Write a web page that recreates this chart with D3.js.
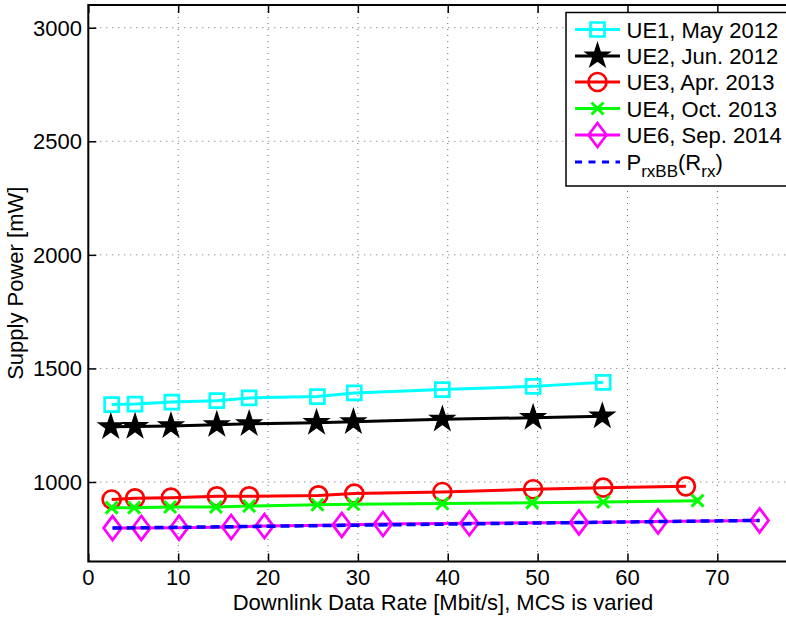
<!DOCTYPE html>
<html><head><meta charset="utf-8">
<script src="https://cdn.jsdelivr.net/npm/d3@7"></script>
<style>body{margin:0;background:#fff;overflow:hidden}svg{display:block;font-family:"Liberation Sans",Arial,sans-serif}</style>
</head><body><div id="chart"></div>
<script>
// ---- data ----
const xTicks = [0, 10, 20, 30, 40, 50, 60, 70, 80];
const yTicks = [1000, 1500, 2000, 2500, 3000];

const ue1X = [2.6, 5.2, 9.3, 14.3, 17.9, 25.5, 29.6, 39.4, 49.5, 57.3];
const ue1Y = [1341, 1343, 1352, 1358, 1370, 1376, 1392, 1407, 1421, 1439];

const ue2X = [2.5, 5.2, 9.2, 14.3, 17.9, 25.4, 29.5, 39.4, 49.5, 57.2];
const ue2Y = [1243, 1244, 1247, 1252, 1256, 1261, 1265, 1276, 1283, 1290];

const ue3X = [2.6, 5.2, 9.2, 14.3, 17.9, 25.6, 29.6, 39.4, 49.5, 57.3, 66.5];
const ue3Y = [923, 928, 931, 937, 937, 941, 949, 956, 968, 975, 981];

const ue4X = [2.6, 5.1, 9.1, 14.2, 17.9, 25.5, 29.5, 39.4, 49.4, 57.3, 67.8];
const ue4Y = [887, 887, 890, 890, 894, 900, 902, 905, 909, 912, 918];

const ue6X = [2.7, 5.9, 10.1, 15.9, 19.6, 28.2, 32.8, 42.4, 54.6, 63.4, 74.7];
const ue6Y = [797, 798, 799, 802, 806, 811, 815, 818, 822, 826, 831];

const modelX = [2.7, 74.7];
const modelY = [797, 831];

const seriesNames = ["UE1, May 2012", "UE2, Jun. 2012", "UE3, Apr. 2013", "UE4, Oct. 2013", "UE6, Sep. 2014"];

// ---- layout ----
const W = 786, H = 617;
const L = 88.3, R = 807.2, T = 5, B = 561.5;
const svg = d3.select("#chart").append("svg").attr("width", W).attr("height", H);
const x = d3.scaleLinear().domain([0, 80]).range([L, R]);
const y = d3.scaleLinear().domain([650, 3100]).range([B, T]);

// grid
const grid = svg.append("g").attr("stroke", "#666").attr("stroke-width", 1).attr("stroke-dasharray", "1,5");
xTicks.forEach(t => grid.append("line").attr("x1", x(t)).attr("x2", x(t)).attr("y1", T).attr("y2", B));
yTicks.forEach(t => grid.append("line").attr("y1", y(t)).attr("y2", y(t)).attr("x1", L).attr("x2", R));

// axes (ticks inward)
const fs = 22;
const ax = svg.append("g");
ax.append("g").attr("transform", `translate(0,${B})`)
  .call(d3.axisTop(x).tickValues(xTicks).tickSize(8).tickFormat(""))
  .call(g => g.select(".domain").remove());
ax.append("g").attr("transform", `translate(0,${T})`)
  .call(d3.axisBottom(x).tickValues(xTicks).tickSize(8).tickFormat(""))
  .call(g => g.select(".domain").remove());
ax.append("g").attr("transform", `translate(${L},0)`)
  .call(d3.axisRight(y).tickValues(yTicks).tickSize(8).tickFormat(""))
  .call(g => g.select(".domain").remove());
ax.selectAll("line").attr("stroke", "#000").attr("stroke-width", 1.5);

// tick labels
svg.append("g").selectAll("text").data(xTicks.filter(t => x(t) < W)).join("text")
  .attr("x", d => x(d)).attr("y", 585).attr("text-anchor", "middle")
  .attr("font-size", fs).text(d => d);
svg.append("g").selectAll("text").data(yTicks).join("text")
  .attr("x", 82).attr("y", d => y(d) + 8).attr("text-anchor", "end")
  .attr("font-size", fs).text(d => d);

// axis labels
svg.append("text").attr("x", 443).attr("y", 610).attr("text-anchor", "middle")
  .attr("font-size", fs).text("Downlink Data Rate [Mbit/s], MCS is varied");
svg.append("text").attr("transform", `translate(23,${(T + B) / 2}) rotate(-90)`)
  .attr("text-anchor", "middle").attr("font-size", fs).text("Supply Power [mW]");

// markers
function starPath(R0) {
  const r0 = R0 * 0.382; let p = [];
  for (let i = 0; i < 10; i++) {
    const a = -Math.PI / 2 + i * Math.PI / 5, rr = i % 2 ? r0 : R0;
    p.push([rr * Math.cos(a), rr * Math.sin(a)]);
  }
  return "M" + p.map(q => q.join(",")).join("L") + "Z";
}
const markers = {
  square: {d: "M-7,-7H7V7H-7Z", fill: "none", sw: 2.7},
  star: {d: starPath(12.5), fill: "#000", sw: 1.5},
  circle: {d: d3.arc()({innerRadius: 0, outerRadius: 9, startAngle: 0, endAngle: 2 * Math.PI}), fill: "none", sw: 2.7},
  x: {d: "M-6,-6L6,6M-6,6L6,-6", fill: "none", sw: 3},
  diamond: {d: "M0,-12L9,0L0,12L-9,0Z", fill: "none", sw: 2.7}
};

const series = [
  {X: ue1X, Y: ue1Y, c: "#00ffff", m: "square"},
  {X: ue2X, Y: ue2Y, c: "#000000", m: "star"},
  {X: ue3X, Y: ue3Y, c: "#ff0000", m: "circle"},
  {X: ue4X, Y: ue4Y, c: "#00ff00", m: "x"},
  {X: ue6X, Y: ue6Y, c: "#ff00ff", m: "diamond"}
];
const line = d3.line().x(d => x(d[0])).y(d => y(d[1]));
const plot = svg.append("g");
series.forEach(s => {
  const pts = s.X.map((v, i) => [v, s.Y[i]]);
  plot.append("path").attr("d", line(pts)).attr("fill", "none").attr("stroke", s.c).attr("stroke-width", 3);
  const mk = markers[s.m];
  plot.append("g").selectAll("path").data(pts).join("path")
    .attr("transform", d => `translate(${x(d[0])},${y(d[1])})`)
    .attr("d", mk.d).attr("fill", mk.fill === "none" ? "none" : s.c)
    .attr("stroke", s.c).attr("stroke-width", mk.sw);
});
plot.append("path").attr("d", line(modelX.map((v, i) => [v, modelY[i]])))
  .attr("fill", "none").attr("stroke", "#0000ff").attr("stroke-width", 3.5).attr("stroke-dasharray", "9,5");

// axes box
svg.append("rect").attr("x", L).attr("y", T).attr("width", R - L).attr("height", B - T)
  .attr("fill", "none").attr("stroke", "#000").attr("stroke-width", 2);

// legend
const lg = svg.append("g");
const lgL = 566, lgT = 12.5, lgB = 186, lgR = 803;
lg.append("rect").attr("x", lgL).attr("y", lgT).attr("width", lgR - lgL).attr("height", lgB - lgT)
  .attr("fill", "#fff").attr("stroke", "#000").attr("stroke-width", 1.5);
const rowY = [29.5, 56, 82, 108.5, 135, 162];
series.forEach((s, i) => {
  const yy = rowY[i];
  lg.append("line").attr("x1", 575).attr("x2", 620).attr("y1", yy).attr("y2", yy).attr("stroke", s.c).attr("stroke-width", 3);
  const mk = markers[s.m];
  lg.append("path").attr("transform", `translate(597.5,${yy})`).attr("d", mk.d)
    .attr("fill", mk.fill === "none" ? "none" : s.c).attr("stroke", s.c).attr("stroke-width", mk.sw);
  lg.append("text").attr("x", 626.5).attr("y", yy + 8).attr("font-size", fs).text(seriesNames[i]);
});
lg.append("line").attr("x1", 575).attr("x2", 620).attr("y1", rowY[5]).attr("y2", rowY[5])
  .attr("stroke", "#0000ff").attr("stroke-width", 3).attr("stroke-dasharray", "7,6.5");
const t6 = lg.append("text").attr("x", 626.5).attr("y", rowY[5] + 8).attr("font-size", fs);
t6.append("tspan").text("P");
t6.append("tspan").attr("dy", 7).attr("font-size", 17).text("rxBB");
t6.append("tspan").attr("dy", -7).text("(R");
t6.append("tspan").attr("dy", 7).attr("font-size", 17).text("rx");
t6.append("tspan").attr("dy", -7).text(")");
</script></body></html>
